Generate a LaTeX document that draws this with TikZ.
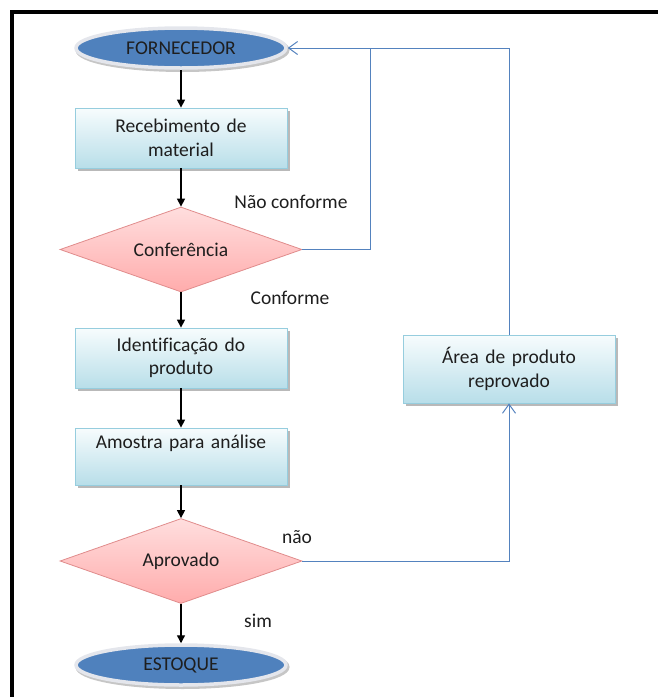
\documentclass[tikz,border=0pt]{standalone}
\usepackage{fontspec}
\setmainfont{Carlito}[Ligatures=CommonOff]
\usetikzlibrary{shapes.geometric,arrows.meta}

\definecolor{ovalblue}{RGB}{79,129,189}
\definecolor{ovalrim}{RGB}{228,230,236}
\definecolor{linkblue}{RGB}{84,130,190}
\definecolor{boxtop}{RGB}{247,252,253}
\definecolor{boxbottom}{RGB}{184,222,233}
\definecolor{boxedge}{RGB}{150,205,222}
\definecolor{dmtop}{RGB}{255,222,222}
\definecolor{dmbottom}{RGB}{255,172,172}
\definecolor{dmedge}{RGB}{224,140,140}
\definecolor{ink}{RGB}{30,30,30}

\tikzset{
  every node/.style={text=ink, font=\fontsize{19.5}{23.5}\selectfont},
  softshadow/.style={preaction={draw=none, fill=gray!55,
    transform canvas={xshift=#1, yshift=-#1}}},
  terminal/.style={ellipse, minimum width=210pt, minimum height=40pt, inner sep=0pt,
    fill=ovalblue, draw=ovalrim, line width=3.5pt,
    preaction={draw=gray!45, line width=4pt, transform canvas={xshift=1.5pt, yshift=-2pt}}},
  taskbox/.style={rectangle, minimum width=212pt, minimum height=60pt, inner sep=2pt,
    text width=200pt, align=center,
    top color=boxtop, bottom color=boxbottom, draw=boxedge, line width=0.8pt,
    softshadow=3pt},
  decision/.style={diamond, aspect=2.85, minimum width=242pt, minimum height=85pt, inner sep=0pt,
    top color=dmtop, bottom color=dmbottom, draw=dmedge, line width=0.8pt},
  flow/.style={draw=black, line width=1.3pt, -{Triangle[length=8pt,width=8pt]}},
  back/.style={draw=linkblue, line width=1pt},
  backarrow/.style={back, -{Straight Barb[length=9pt,width=13pt]}},
  tag/.style={inner sep=0pt}
}

\begin{document}
\begin{tikzpicture}[x=1pt,y=-1pt]
  \useasboundingbox (0,0) rectangle (657,697);

  % outer frame (only the left and top edges are visible)
  \draw[line width=4pt, line cap=rect] (12,720) -- (12,12) -- (680,12);

  % main column
  \node[terminal] (forn)  at (181,48)  {FORNECEDOR};
  \node[taskbox]  (rec)   at (181,138) {Recebimento de\\material};
  \node[decision] (conf)  at (181,249.5) {Conferência};
  \node[taskbox]  (ident) at (181,358) {Identificação do\\produto};
  \node[taskbox, minimum height=57pt] (amos) at (181,456.5) {Amostra para análise\\\strut};
  \node[decision] (aprov) at (181,561) {Aprovado};
  \node[terminal] (estq)  at (181,665) {ESTOQUE};

  % side box for rejected material
  \node[taskbox, minimum height=68pt] (area) at (509,369) {Área de produto\\reprovado};

  % main flow
  \draw[flow] (forn)  -- (rec);
  \draw[flow] (rec)   -- (conf);
  \draw[flow] (conf)  -- (ident);
  \draw[flow] (ident) -- (amos);
  \draw[flow] (amos)  -- (aprov);
  \draw[flow] (aprov) -- (estq);

  % return paths
  \coordinate (join) at (370,48);
  \draw[back] (conf.east) -| (join);
  \draw[backarrow] (area.north) |- (forn.east);
  \draw[backarrow] (aprov.east) -| (area.south);

  % branch labels
  \node[tag] (lnc)  at (291,202) {Não conforme};
  \node[tag] (lc)   at (290,298) {Conforme};
  \node[tag] (lnao) at (297,537) {não};
  \node[tag] (lsim) at (258,621) {sim};
\end{tikzpicture}
\end{document}
